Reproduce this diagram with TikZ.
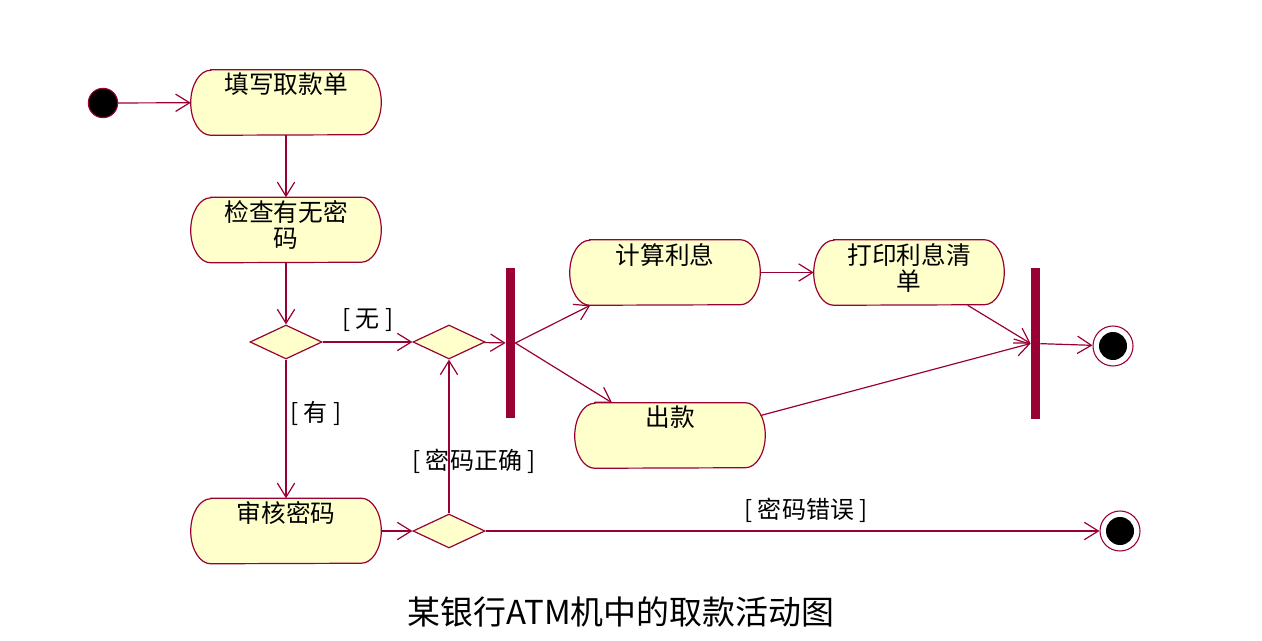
\documentclass[tikz,border=0pt]{standalone}
\usepackage{fontspec}
\newfontfamily\cjk{Noto Sans CJK SC}
\usetikzlibrary{arrows.meta,shapes.geometric,backgrounds}
\definecolor{rose}{RGB}{153,0,51}
\definecolor{actfill}{RGB}{255,255,204}
\newcommand\acttext[1]{\parbox[c][44pt][t]{120pt}{\centering #1}}
\begin{document}
\begin{tikzpicture}[x=0.75pt,y=-0.75pt,
 activity/.style={rectangle, draw=none, minimum width=142.5pt, minimum height=48.75pt, inner xsep=0pt, inner ysep=2pt,
   font=\cjk\fontsize{18.5}{19.5}\selectfont},
 actshape/.style={draw=rose, fill=actfill, line width=0.9pt},
 choice/.style={diamond, aspect=2, draw=rose, fill=actfill, line width=0.9pt, minimum width=54pt, minimum height=25.5pt, inner sep=0pt},
 bar/.style={rectangle, fill=rose, draw=none, minimum width=7pt, minimum height=112.5pt, inner sep=0pt},
 startnode/.style={circle, fill=black, draw=rose, line width=0.8pt, minimum size=22pt, inner sep=0pt},
 endnode/.style={circle, draw=rose, fill=white, line width=0.8pt, minimum size=30pt, inner sep=0pt,
   path picture={\fill[black] (path picture bounding box.center) circle (10.5pt);}},
 flow/.style={draw=rose, line width=0.9pt, -{Straight Barb[length=10.5pt,width=13pt,line width=0.9pt]}},
 guard/.style={font=\cjk\fontsize{18}{20}\selectfont, text=black, inner sep=0pt},
]
\useasboundingbox (0,0) rectangle (1262,641);

\node[startnode] (start) at (103,103) {};
\node[activity] (a1) at (286,102.5) {\acttext{填写取款单}};
\node[activity] (a2) at (286,230) {\acttext{检查有无密\\码}};
\node[choice] (d1) at (286,342) {};
\node[choice] (d2) at (449,342) {};
\node[activity] (a4) at (286,531) {\acttext{审核密码}};
\node[choice] (d3) at (449,531) {};
\node[bar] (fork) at (510.5,343) {};
\node[activity] (a5) at (665,272.5) {\acttext{计算利息}};
\node[activity] (a7) at (909,272.5) {\acttext{打印利息清\\单}};
\node[activity] (a6) at (670,435.5) {\acttext{出款}};
\node[bar] (join) at (1035.5,343.5) {};
\node[endnode] (end1) at (1113,346) {};
\node[endnode] (end2) at (1120,531) {};

\begin{scope}[on background layer]
\foreach \n in {a1,a2,a4,a5,a6,a7}{
  \path[actshape] ([xshift=15pt]\n.north west) -- ([xshift=-15pt]\n.north east)
    arc[start angle=90, end angle=-90, x radius=15pt, y radius=24.375pt]
    -- ([xshift=15pt]\n.south west)
    arc[start angle=270, end angle=90, x radius=15pt, y radius=24.375pt] -- cycle;
}
\end{scope}

\node[guard] (g1) at (368,320) {[ 无 ]};
\node[guard] (g2) at (316,413) {[ 有 ]};
\node[guard] (g3) at (474,461) {[ 密码正确 ]};
\node[guard] (g4) at (806,510) {[ 密码错误 ]};

\draw[flow] (start) -- (a1);
\draw[flow] (a1) -- (a2);
\draw[flow] (a2) -- (d1);
\draw[flow] (d1) -- (d2);
\draw[flow] (d1) -- (a4);
\draw[flow] (a4) -- (d3);
\draw[flow] (d3) -- (d2);
\draw[flow] (d3) -- (end2);
\draw[flow] (d2) -- (fork);
\draw[flow] (fork.east) -- ([xshift=-56pt]a5.south);
\draw[flow] (fork.east) -- ([xshift=-43.5pt]a6.north);
\draw[flow] (a5) -- (a7);
\draw[flow] ([xshift=44pt]a7.south) -- (join.west);
\draw[flow] ([xshift=-3.5pt,yshift=15pt]a6.east) -- (join.west);
\draw[flow] (join) -- (end1);

\node[font=\cjk\fontsize{24.7}{28}\selectfont, inner sep=0pt] (caption) at (621,612) {某银行ATM机中的取款活动图};
\end{tikzpicture}
\end{document}
